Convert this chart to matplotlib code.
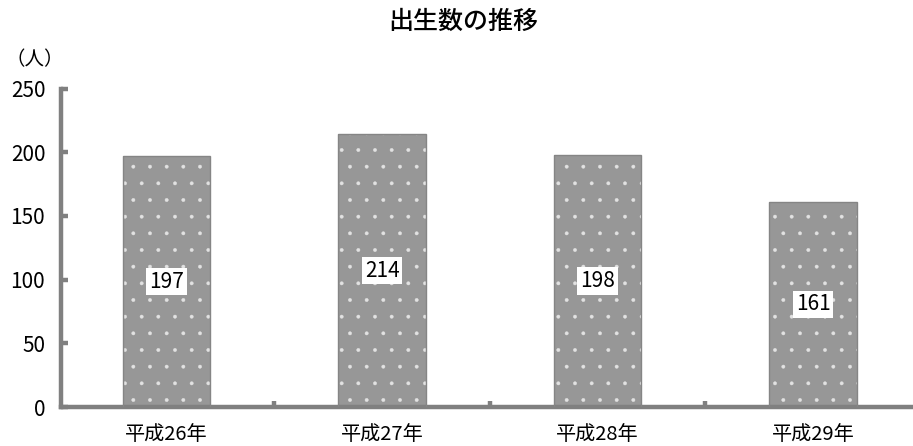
import matplotlib
matplotlib.use("Agg")
import matplotlib.pyplot as plt

plt.rcParams['font.family'] = ['Noto Sans CJK JP', 'DejaVu Sans']
plt.rcParams['hatch.linewidth'] = 0.3

years = ["平成26年", "平成27年", "平成28年", "平成29年"]
births = [197, 214, 198, 161]
yticks = [0, 50, 100, 150, 200, 250]

fig = plt.figure(figsize=(9.13, 4.46), dpi=100)
ax = fig.add_axes([60.5 / 913, 39 / 446, 1 - 60.5 / 913, 318.5 / 446])

x = list(range(len(years)))
# fill with light dots, then a thin gray outline on top
ax.bar(x, births, width=0.404, color='#979797', edgecolor='#e2e2e2',
       linewidth=0, hatch='.', zorder=2)
ax.bar(x, births, width=0.404, fill=False, edgecolor='#858585',
       linewidth=1.0, zorder=3)

for xi, v in zip(x, births):
    ax.text(xi, v / 2, str(v), ha='center', va='center', fontsize=15,
            bbox=dict(facecolor='white', edgecolor='none', pad=2.0), zorder=4)

ax.set_xlim(-0.492, 3.464)
ax.set_ylim(0, 250)
ax.set_yticks(yticks)
ax.set_xticks(x)
ax.set_xticklabels(years, fontsize=14.5)
ax.set_xticks([0.5, 1.5, 2.5], minor=True)
ax.tick_params(axis='x', which='major', length=0, pad=12)
ax.tick_params(axis='x', which='minor', direction='in', length=4.6,
               width=3.2, color='#808080')
ax.tick_params(axis='y', direction='in', length=4.8, width=3.2,
               color='#808080', labelsize=15, pad=11)

for s in ['top', 'right']:
    ax.spines[s].set_visible(False)
for s in ['left', 'bottom']:
    ax.spines[s].set_color('#808080')
    ax.spines[s].set_linewidth(3.2)

fig.text(463 / 913, 1 - 22 / 446, "出生数の推移", ha='center', va='center',
         fontsize=18, fontweight='medium')
fig.text(35 / 913, 1 - 60 / 446, "（人）", ha='center', va='center',
         fontsize=14)

fig.savefig("out.png", dpi=100)
